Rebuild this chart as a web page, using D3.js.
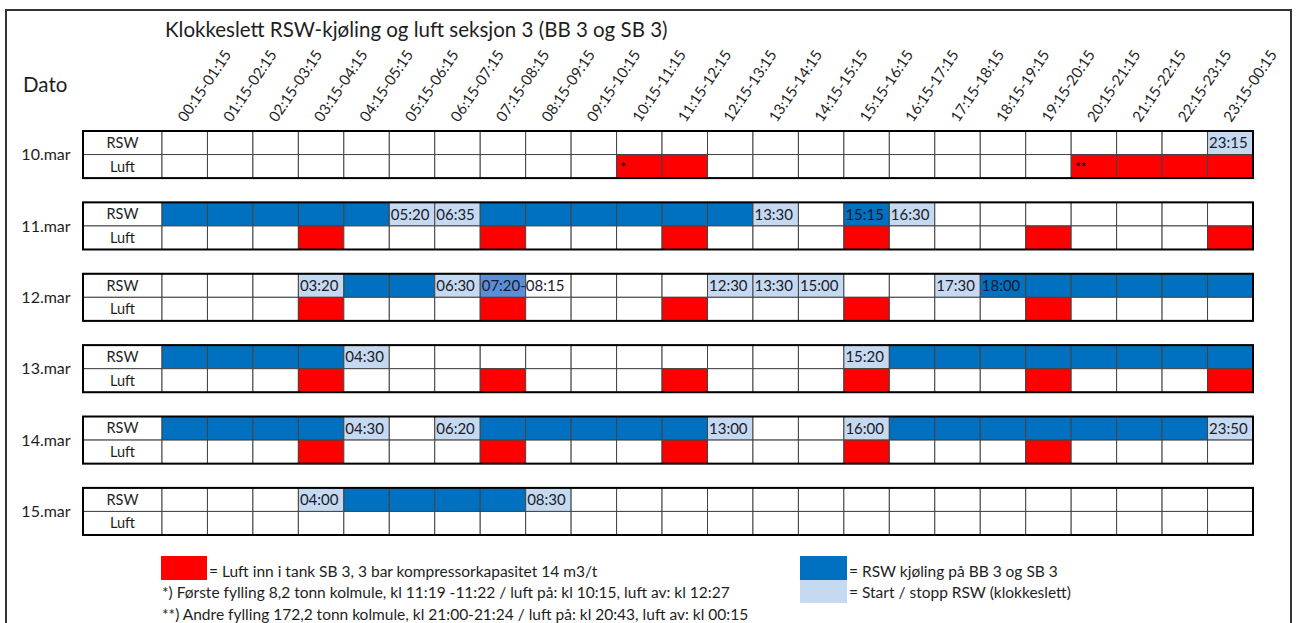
<!DOCTYPE html>
<html>
<head>
<meta charset="utf-8">
<script src="https://cdn.jsdelivr.net/npm/d3@7"></script>
<style>
  body { margin: 0; background: #fff; }
  svg { display: block; font-family: Lato, "Open Sans", sans-serif; }
</style>
</head>
<body>
<div id="chart"></div>
<script>
// --- data ---
const slots = ["00:15-01:15","01:15-02:15","02:15-03:15","03:15-04:15","04:15-05:15","05:15-06:15",
  "06:15-07:15","07:15-08:15","08:15-09:15","09:15-10:15","10:15-11:15","11:15-12:15",
  "12:15-13:15","13:15-14:15","14:15-15:15","15:15-16:15","16:15-17:15","17:15-18:15",
  "18:15-19:15","19:15-20:15","20:15-21:15","21:15-22:15","22:15-23:15","23:15-00:15"];
const days = ["10.mar","11.mar","12.mar","13.mar","14.mar","15.mar"];

// slot indexes where RSW cooling runs (dark blue)
const rswOn = [
  [],
  [0,1,2,3,4,7,8,9,10,11,12,15],
  [4,5,18,19,20,21,22,23],
  [0,1,2,3,16,17,18,19,20,21,22,23],
  [0,1,2,3,7,8,9,10,11,16,17,18,19,20,21,22],
  [4,5,6,7]
];
// partly shaded slot (mid blue)
const rswMid = [[], [], [7], [], [], []];
// start / stop times written in slots
const rswTimes = [
  [[23,"23:15"]],
  [[5,"05:20"],[6,"06:35"],[13,"13:30"],[15,"15:15"],[16,"16:30"]],
  [[3,"03:20"],[6,"06:30"],[7,"07:20-08:15"],[12,"12:30"],[13,"13:30"],[14,"15:00"],[17,"17:30"],[18,"18:00"]],
  [[4,"04:30"],[15,"15:20"]],
  [[4,"04:30"],[6,"06:20"],[12,"13:00"],[15,"16:00"],[23,"23:50"]],
  [[3,"04:00"],[8,"08:30"]]
];
// slot indexes where air goes in (red)
const luftOn = [
  [10,11,20,21,22,23],
  [3,7,11,15,19,23],
  [3,7,11,15,19],
  [3,7,11,15,19,23],
  [3,7,11,15,19],
  []
];
const luftNotes = [[[10,"*"],[20,"**"]], [], [], [], [], []];

const rowNames = ["RSW", "Luft"];
const title = "Klokkeslett RSW-kjøling og luft seksjon 3 (BB 3 og SB 3)";
const legendLeft = [
  "= Luft inn i tank SB 3, 3 bar kompressorkapasitet 14 m3/t",
  "*) Første fylling 8,2 tonn kolmule, kl 11:19 -11:22 / luft på: kl 10:15, luft av: kl 12:27",
  "**) Andre fylling 172,2 tonn kolmule, kl 21:00-21:24 / luft på: kl 20:43, luft av: kl 00:15"
];
const legendRight = ["= RSW kjøling på BB 3 og SB 3", "= Start / stopp RSW (klokkeslett)"];

const RED = "#ff0000", BLUE = "#0070c0", LIGHT = "#c5d9f1", MID = "#5a8fd8";
const INK = "#1e1e1e";

// --- layout ---
const W = 1297, H = 623;
const svg = d3.select("#chart").append("svg").attr("width", W).attr("height", H);

// outer frame
svg.append("rect").attr("x", 6).attr("y", 10).attr("width", 1285).attr("height", 640)
  .attr("fill", "none").attr("stroke", "#333").attr("stroke-width", 2);

const x = d3.scaleBand().domain(d3.range(slots.length)).range([162, 1253]);
const y = d3.scaleBand().domain(days).range([131, 535]).paddingInner(0.34);
const rowH = y.bandwidth() / 2;
const labelX0 = 83;

// title
svg.append("text").attr("x", 165).attr("y", 37).attr("font-size", 20.5).attr("fill", INK).text(title);
svg.append("text").attr("x", 23).attr("y", 92).attr("font-size", 20.5).attr("fill", INK).text("Dato");

// slot headers
svg.append("g").selectAll("text").data(slots).join("text")
  .attr("transform", (d, i) => `translate(${x(i) + x.bandwidth() / 2 + 1},${123}) rotate(-56)`)
  .attr("font-size", 15).attr("fill", INK).text(d => d);

// day blocks
days.forEach((day, di) => {
  const g = svg.append("g").attr("transform", `translate(0,${y(day)})`);

  g.append("text").attr("x", 46).attr("y", rowH).attr("dy", "0.36em")
    .attr("text-anchor", "middle").attr("font-size", 16).attr("fill", INK).text(day);

  rowNames.forEach((name, ri) => {
    const ry = ri * rowH;
    g.append("rect").attr("x", labelX0).attr("y", ry).attr("width", x(0) - labelX0).attr("height", rowH)
      .attr("fill", "#fff").attr("stroke", "#444").attr("stroke-width", 1);
    g.append("text").attr("x", (labelX0 + x(0)) / 2).attr("y", ry + rowH / 2).attr("dy", "0.36em")
      .attr("text-anchor", "middle").attr("font-size", 14.5).attr("fill", INK).text(name);

    g.append("g").selectAll("rect").data(d3.range(slots.length)).join("rect")
      .attr("x", i => x(i)).attr("y", ry).attr("width", x.bandwidth()).attr("height", rowH)
      .attr("stroke", "#444").attr("stroke-width", 1)
      .attr("fill", i => {
        if (ri === 1) return luftOn[di].includes(i) ? RED : "#fff";
        if (rswMid[di].includes(i)) return MID;
        if (rswOn[di].includes(i)) return BLUE;
        if (rswTimes[di].some(t => t[0] === i)) return LIGHT;
        return "#fff";
      });
  });

  // time labels
  g.append("g").selectAll("text").data(rswTimes[di]).join("text")
    .attr("x", d => x(d[0]) + 1.5).attr("y", rowH / 2).attr("dy", "0.36em")
    .attr("font-size", 15).attr("fill", "#1a1a2a").text(d => d[1]);

  // notes
  g.append("g").selectAll("text").data(luftNotes[di]).join("text")
    .attr("x", d => x(d[0]) + 4).attr("y", rowH * 1.5).attr("dy", "0.45em")
    .attr("font-size", 13).attr("font-weight", "bold").attr("fill", "#111").text(d => d[1]);

  // block outline
  g.append("rect").attr("x", labelX0).attr("y", 0).attr("width", x.range()[1] - labelX0).attr("height", rowH * 2)
    .attr("fill", "none").attr("stroke", "#000").attr("stroke-width", 2);
});

// legend
const lg = svg.append("g");
const legendBase = [577, 598, 620];
lg.append("rect").attr("x", 161).attr("y", 556).attr("width", 46).attr("height", 24).attr("fill", RED);
lg.selectAll("text.l").data(legendLeft).join("text").attr("class", "l")
  .attr("x", (d, i) => i === 0 ? 209 : 162).attr("y", (d, i) => legendBase[i])
  .attr("font-size", 15.5).attr("fill", INK).text(d => d);

lg.append("rect").attr("x", 800).attr("y", 556).attr("width", 47).attr("height", 24).attr("fill", BLUE);
lg.append("rect").attr("x", 800).attr("y", 580).attr("width", 47).attr("height", 23).attr("fill", LIGHT);
lg.selectAll("text.r").data(legendRight).join("text").attr("class", "r")
  .attr("x", 849).attr("y", (d, i) => legendBase[i])
  .attr("font-size", 15.5).attr("fill", INK).text(d => d);
</script>
</body>
</html>
